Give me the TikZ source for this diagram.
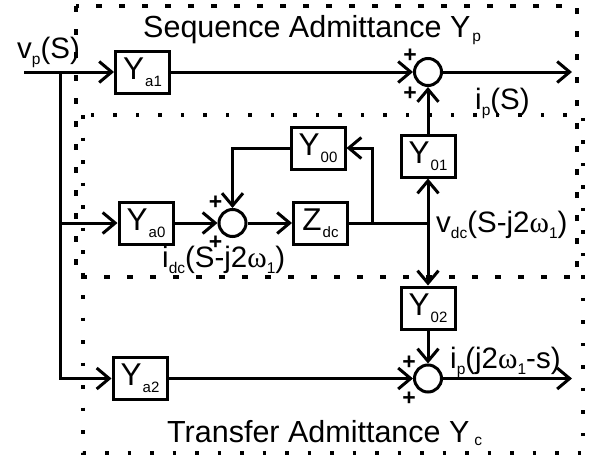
\documentclass[tikz,border=0pt]{standalone}
\usepackage{fontspec}
\setmainfont{Liberation Sans}
\newfontfamily\grk{Liberation Serif}
\usetikzlibrary{arrows.meta}
\newcommand{\sbs}[1]{\raisebox{-6pt}{\fontsize{15.5}{15.5}\selectfont #1}}
\newcommand{\bsub}[1]{\raisebox{-7pt}{\fontsize{15}{15}\selectfont\hspace{1pt}#1}}
\newcommand{\om}{{\grk ω}}
\begin{document}
\begin{tikzpicture}[x=1pt,y=-1pt,
  box/.style={draw, line width=3pt, minimum width=54pt, minimum height=42pt, inner sep=0pt, font=\fontsize{31.5}{31.5}\selectfont},
  sumnode/.style={draw, circle, line width=3pt, minimum size=27pt, inner sep=0pt},
  wire/.style={line width=3pt},
  arr/.style={line width=3pt, -{Straight Barb[length=12.5pt,width=21pt]}},
  lbl/.style={inner sep=0pt, anchor=base west, font=\fontsize{29.5}{29.5}\selectfont},
  ttl/.style={inner sep=0pt, anchor=base west, font=\fontsize{30.5}{30.5}\selectfont},
  pl/.style={inner sep=0pt, font=\fontsize{23}{23}\selectfont\bfseries},
  seqbox/.style={line width=3.5pt, dash pattern=on 6pt off 17pt},
  trbox/.style={line width=3.5pt, dash pattern=on 3.5pt off 19pt}
]
\useasboundingbox (0,0) rectangle (590,464);
\fill[white] (0,0) rectangle (590,464);
% region frames
\draw[seqbox] (76,6) rectangle (577,277);
\draw[trbox] (83,115) rectangle (583,453);

% blocks
\node[box] (ya1) at (142.5,72) {Y\bsub{a1}};
\node[box] (ya0) at (146,223) {Y\bsub{a0}};
\node[box] (ya2) at (140,378.5) {Y\bsub{a2}};
\node[box] (y00) at (318,148) {Y\bsub{00}};
\node[box] (zdc) at (320.5,223) {Z\bsub{dc}};
\node[box] (y01) at (428,156) {Y\bsub{01}};
\node[box] (y02) at (428,308) {Y\bsub{02}};
\node[sumnode] (s1) at (232.5,223) {};
\node[sumnode] (s2) at (428,72) {};
\node[sumnode] (s3) at (428,378.5) {};

\coordinate (in) at (24,72);
\coordinate (br) at (60,72);
\coordinate (j) at (428,223);
\coordinate (fb) at (372,223);
\coordinate (o1) at (572,72);
\coordinate (o3) at (572,378.5);

% connectors
\draw[arr] (in) -- (ya1);
\draw[arr] (br) |- (ya2);
\draw[arr] (br |- ya0) -- (ya0);
\draw[arr] (ya1) -- (s2);
\draw[arr] (s2) -- (o1);
\draw[arr] (ya0) -- (s1);
\draw[arr] (s1) -- (zdc);
\draw[wire] (zdc) -- (j);
\draw[arr] (fb) |- (y00);
\draw[arr] (y00) -| (s1);
\draw[arr] (j) -- (y01);
\draw[arr] (y01) -- (s2);
\draw[arr] (j) -- (y02);
\draw[arr] (y02) -- (s3);
\draw[arr] (ya2) -- (s3);
\draw[arr] (s3) -- (o3);

% signs
\node[pl] (p1a) at (215.5,203) {+};
\node[pl] (p1b) at (215.5,243) {+};
\node[pl] (p2a) at (410,56) {+};
\node[pl] (p2b) at (410,94) {+};
\node[pl] (p3a) at (409,363) {+};
\node[pl] (p3b) at (409,399) {+};

% labels
\node[lbl] (lvp) at (17,58) {v\sbs{p}(S)};
\node[lbl] (lip) at (475,109) {i\sbs{p}(S)};
\node[lbl] (lvdc) at (436,232) {v\sbs{dc}(S-j2\om\sbs{1})};
\node[lbl] (lidc) at (162,267) {i\sbs{dc}(S-j2\om\sbs{1})};
\node[lbl] (lip2) at (450,368) {i\sbs{p}(j2\om\sbs{1}-s)};
\node[ttl] (t1) at (143,37) {Sequence Admittance Y\hspace{2pt}\raisebox{-4pt}{\fontsize{15.5}{15.5}\selectfont p}};
\node[ttl] (t2) at (167,442) {Transfer Admittance Y\hspace{5pt}\raisebox{-3pt}{\fontsize{15.5}{15.5}\selectfont c}};
\end{tikzpicture}
\end{document}
